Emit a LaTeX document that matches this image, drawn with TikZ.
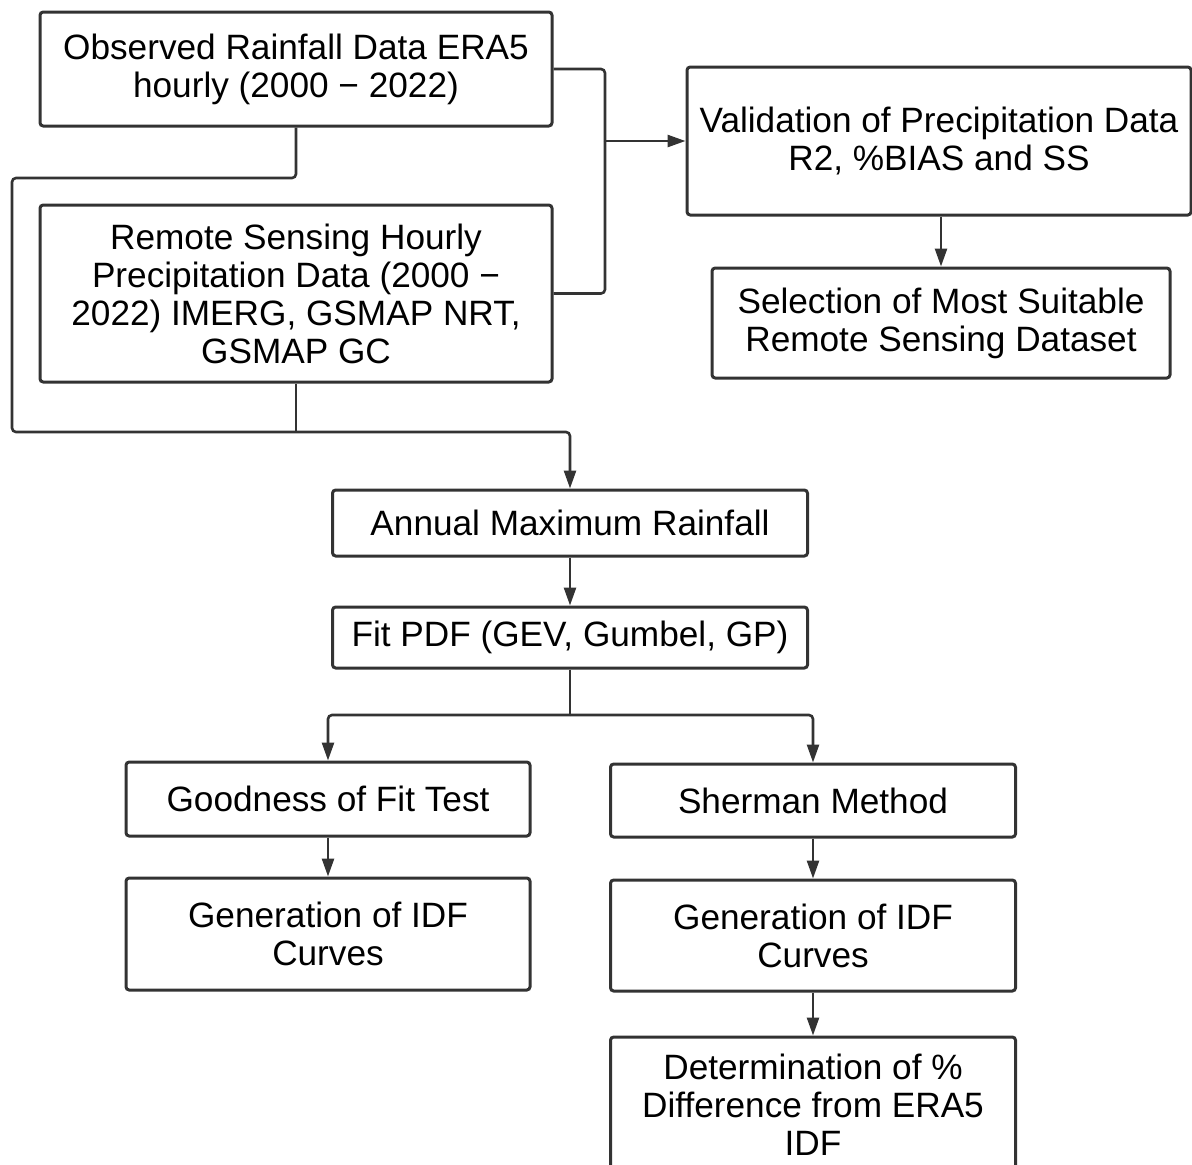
\documentclass[tikz,border=0pt]{standalone}
\usepackage{fontspec}
\setmainfont{Liberation Sans}
\usepackage{xcolor}
\usepackage{tikz}
\usetikzlibrary{arrows.meta, positioning, calc}

\definecolor{linegray}{HTML}{333333}

\begin{document}
\begin{tikzpicture}[x=0.5pt, y=-0.5pt,
        box/.style={draw=linegray, line width=1.5pt, rounded corners=1.6pt, align=center,
            inner sep=0pt, text=black, font=\fontsize{17.6}{19}\selectfont},
        link/.style={draw=linegray, line width=1.3pt, rounded corners=2pt},
        arrow/.style={link, -{Triangle[length=9pt, width=6pt]}}]
        \fill[white] (0,0) rectangle (1192,1164);
        \useasboundingbox (0,0) rectangle (1192,1164);

        % upper part: data sources and validation
        \node[box, minimum width=256pt, minimum height=57pt] (obs) at (296,69)
            {Observed Rainfall Data ERA5\\hourly (2000 − 2022)};
        \node[box, minimum width=256pt, minimum height=88.5pt] (remote) at (296,293.5)
            {Remote Sensing Hourly\\Precipitation Data (2000 −\\2022) IMERG, GSMAP NRT,\\GSMAP GC};
        \node[box, minimum width=252pt, minimum height=74pt] (valid) at (939,141)
            {Validation of Precipitation Data\\R2, \%BIAS and SS};
        \node[box, minimum width=229pt, minimum height=55pt] (select) at (941,323)
            {Selection of Most Suitable\\Remote Sensing Dataset};

        % lower part: frequency analysis
        \node[box, minimum width=237.5pt, minimum height=33pt] (annual) at (570,523)
            {Annual Maximum Rainfall};
        \node[box, minimum width=237.5pt, minimum height=30.5pt] (fit) at (570,637.5)
            {Fit PDF (GEV, Gumbel, GP)};
        \node[box, minimum width=202pt, minimum height=37pt] (good) at (328,799)
            {Goodness of Fit Test};
        \node[box, minimum width=202.5pt, minimum height=36.5pt] (sherman) at (813,800.5)
            {Sherman Method};
        \node[box, minimum width=202pt, minimum height=56pt] (idfL) at (328,934)
            {Generation of IDF\\Curves};
        \node[box, minimum width=202.5pt, minimum height=55.5pt] (idfR) at (813,935.5)
            {Generation of IDF\\Curves};
        \node[box, minimum width=202.5pt, minimum height=68pt] (diff) at (813,1105)
            {Determination of \%\\Difference from ERA5\\IDF};

        \coordinate (join) at (605,141);
        \coordinate (loopTop) at (12,178);
        \coordinate (loopBot) at (12,432);
        \coordinate (split) at (570,715);

        \draw[link] (obs.east) -| (join);
        \draw[link] (remote.east) -| (join);
        \draw[arrow] (join) -- (valid.west);
        \draw[arrow] (valid.south -| select.north) -- (select.north);

        \draw[arrow] (obs.south) |- (loopTop) -- (loopBot) -| (annual.north);
        \draw[link] (remote.south) -- (remote.south |- loopBot);

        \draw[arrow] (annual) -- (fit);
        \draw[link] (fit.south) -- (split);
        \draw[arrow] (split) -| (good.north);
        \draw[arrow] (split) -| (sherman.north);
        \draw[arrow] (good) -- (idfL);
        \draw[arrow] (sherman) -- (idfR);
        \draw[arrow] (idfR) -- (diff);

    \end{tikzpicture}
\end{document}
